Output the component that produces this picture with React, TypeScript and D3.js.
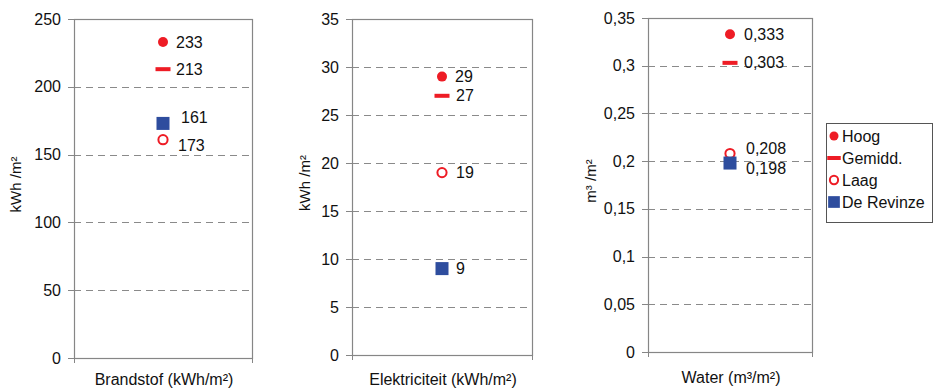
import React from 'react';
import * as d3 from 'd3';

// ---------- data ----------
const categories = ['Brandstof (kWh/m²)', 'Elektriciteit (kWh/m²)', 'Water (m³/m²)'];
const yTitles = ['kWh /m²', 'kWh /m²', 'm³ /m²'];
const seriesNames = ['Hoog', 'Gemidd.', 'Laag', 'De Revinze'];
const hoogValues = [233, 29, 0.333];
const gemiddValues = [213, 27, 0.303];
const laagValues = [161, 19, 0.208];
const revinzeValues = [173, 9, 0.198];
const yMaxValues = [250, 35, 0.35];
const yStepValues = [50, 5, 0.05];

const seriesValues = [hoogValues, gemiddValues, laagValues, revinzeValues];

// ---------- layout / style ----------
const W = 933;
const H = 390;
const RED = '#ee1c25';
const BLUE = '#2e4d9e';
const AXIS = '#868686';
const GRID = '#8a8a8a';
const FONT = 'Liberation Sans, Arial, sans-serif';

const frames = [
  { left: 74, right: 252, top: 19, bottom: 358, titleX: 16, catY: 385 },
  { left: 352, right: 532, top: 19, bottom: 355, titleX: 305, catY: 385 },
  { left: 648, right: 812, top: 18, bottom: 352, titleX: 591, catY: 383 },
];

// label offsets [dx, dy] per panel, per series
const labelOffsets = [
  [[13, 0], [13, 0], [18, -22], [15, 22]],
  [[13, 0], [14, 0], [14, 0], [14, 0]],
  [[14, 0], [14, 0], [16, -5], [16, 5]],
];

const fmt = (v: number) => String(v).replace('.', ',');

function Marker({ kind, x, y, legend }: { kind: number; x: number; y: number; legend?: boolean }) {
  const s = legend ? 0.9 : 1;
  if (kind === 0) return <circle cx={x} cy={y} r={5 * s} fill={RED} />;
  if (kind === 1) return <rect x={x - 7.5 * s} y={y - 2} width={15 * s} height={4} fill={RED} />;
  if (kind === 2) return <circle cx={x} cy={y} r={4.6 * s} fill="#fff" stroke={RED} strokeWidth={2} />;
  return <rect x={x - 6.5 * s} y={y - 6.5 * s} width={13 * s} height={13 * s} fill={BLUE} />;
}

function Panel({ idx }: { idx: number }) {
  const f = frames[idx];
  const max = yMaxValues[idx];
  const step = yStepValues[idx];
  const y = d3.scaleLinear().domain([0, max]).range([f.bottom, f.top]);
  const x = d3.scaleBand().domain([categories[idx]]).range([f.left, f.right]);
  const n = Math.round(max / step);
  const ticks = d3.range(0, n + 1).map((i) => +(i * step).toFixed(3));
  const cx = (x(categories[idx]) as number) + x.bandwidth() / 2;
  const midY = (f.top + f.bottom) / 2;
  return (
    <g>
      {/* gridlines */}
      {ticks
        .filter((t) => t > 0 && t < max)
        .map((t) => (
          <line
            key={'g' + t}
            x1={f.left}
            x2={f.right}
            y1={Math.round(y(t)) + 0.5}
            y2={Math.round(y(t)) + 0.5}
            stroke={GRID}
            strokeDasharray="7,5"
          />
        ))}
      {/* plot frame */}
      <rect
        x={f.left + 0.5}
        y={f.top + 0.5}
        width={f.right - f.left}
        height={f.bottom - f.top}
        fill="none"
        stroke={AXIS}
        strokeWidth={1.2}
      />
      {/* y ticks */}
      {ticks.map((t) => (
        <g key={'t' + t}>
          <line x1={f.left - 6} x2={f.left} y1={Math.round(y(t)) + 0.5} y2={Math.round(y(t)) + 0.5} stroke={AXIS} />
          <text
            x={f.left - 13}
            y={y(t)}
            dy="0.35em"
            textAnchor="end"
            fontSize={16}
            fontFamily={FONT}
            fill="#111"
          >
            {fmt(t)}
          </text>
        </g>
      ))}
      {/* category ticks */}
      <line x1={f.left + 0.5} x2={f.left + 0.5} y1={f.bottom} y2={f.bottom + 5} stroke={AXIS} />
      <line x1={f.right + 0.5} x2={f.right + 0.5} y1={f.bottom} y2={f.bottom + 5} stroke={AXIS} />
      {/* axis titles */}
      <text
        transform={`translate(${f.titleX},${midY - 4}) rotate(-90)`}
        dy="0.35em"
        textAnchor="middle"
        fontSize={15}
        fontFamily={FONT}
        fill="#111"
      >
        {yTitles[idx]}
      </text>
      <text x={cx + 1} y={f.catY} textAnchor="middle" fontSize={16} fontFamily={FONT} fill="#111">
        {categories[idx]}
      </text>
      {/* markers */}
      {seriesValues.map((vals, s) => (
        <Marker key={'m' + s} kind={s} x={cx} y={y(vals[idx])} />
      ))}
      {/* labels */}
      {seriesValues.map((vals, s) => (
        <text
          key={'l' + s}
          x={cx + labelOffsets[idx][s][0]}
          y={y(vals[idx]) + labelOffsets[idx][s][1]}
          dy="0.35em"
          fontSize={16}
          fontFamily={FONT}
          fill="#111"
        >
          {fmt(vals[idx])}
        </text>
      ))}
    </g>
  );
}

function Legend() {
  const lx = 826;
  const ly = 123;
  const rowY = d3.scalePoint().domain(seriesNames).range([ly + 13, ly + 79]);
  return (
    <g>
      <rect x={lx + 0.5} y={ly + 0.5} width={106} height={99} fill="#fff" stroke="#555" />
      {seriesNames.map((name, s) => (
        <g key={name}>
          <Marker kind={s} x={lx + 8} y={rowY(name) as number} legend />
          <text x={lx + 16} y={rowY(name) as number} dy="0.35em" fontSize={16} fontFamily={FONT} fill="#111">
            {name}
          </text>
        </g>
      ))}
    </g>
  );
}

export default function App() {
  return (
    <svg
      width={W}
      height={H}
      viewBox={`0 0 ${W} ${H}`}
      style={{ position: 'absolute', left: 0, top: 0, background: '#fff' }}
    >
      <rect width={W} height={H} fill="#fff" />
      {[0, 1, 2].map((i) => (
        <Panel key={i} idx={i} />
      ))}
      <Legend />
    </svg>
  );
}
